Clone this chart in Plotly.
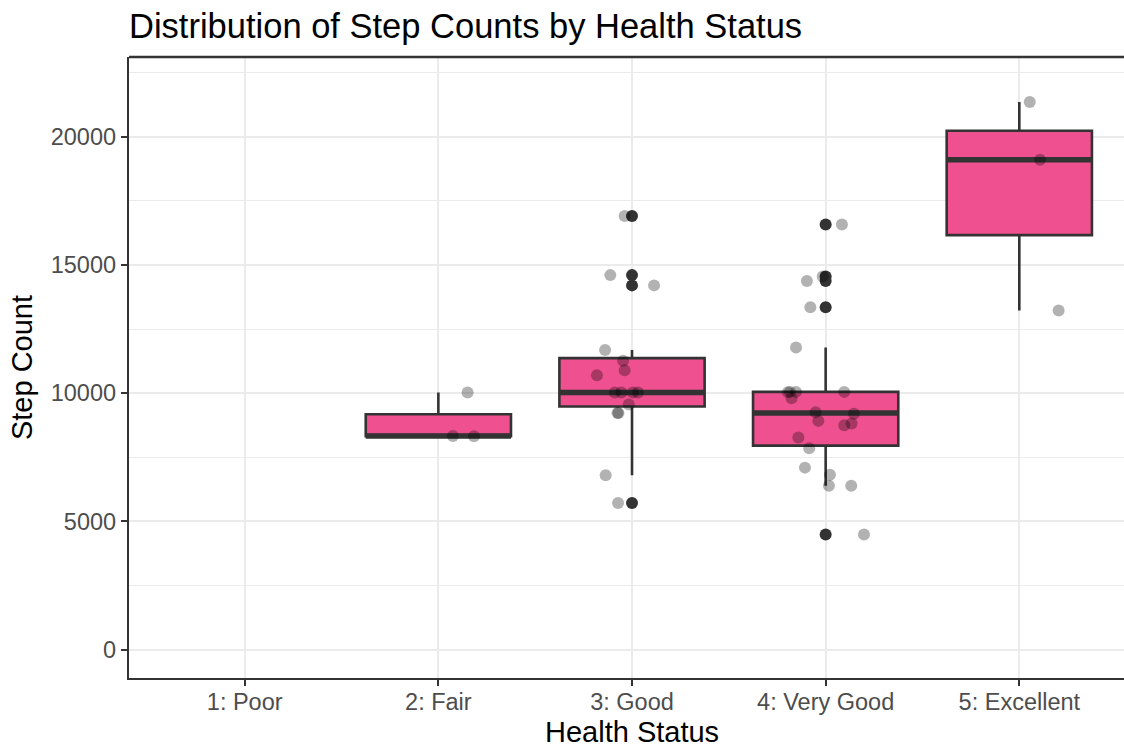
import numpy as np
import plotly.graph_objects as go

# ---------------- data ----------------
categories = ["1: Poor", "2: Fair", "3: Good", "4: Very Good", "5: Excellent"]

poor_steps = []
fair_steps = [8320, 8330, 10030]
good_steps = [16900, 14600, 14200, 11680, 11260, 10890, 10700,
              10030, 10030, 10030, 10030, 9560, 9230, 9230, 6800, 5716]
very_good_steps = [16575, 14544, 14375, 13346, 11780, 10050, 10050, 9800,
                   10050, 10040, 9260, 8920, 9200, 8815, 8750, 8270,
                   7850, 7098, 6824, 6394, 6394, 4492]
excellent_steps = [21350, 19100, 13220]

# horizontal jitter of each point (category units)
poor_jitter = []
fair_jitter = [0.184, 0.075, 0.151]
good_jitter = [-0.038, -0.112, 0.114, -0.139, -0.046, -0.038, -0.181,
               -0.089, -0.055, 0.005, 0.031, -0.017, -0.075, -0.070, -0.136, -0.072]
very_good_jitter = [0.084, -0.015, -0.097, -0.079, -0.153, -0.184, -0.153, -0.176,
                    0.096, -0.195, -0.052, -0.038, 0.146, 0.134, 0.096, -0.141,
                    -0.085, -0.107, 0.022, 0.017, 0.132, 0.198]
excellent_jitter = [0.054, 0.107, 0.203]

y_tick_values = [0, 5000, 10000, 15000, 20000]
y_minor_values = [2500, 7500, 12500, 17500, 22500]

series = [poor_steps, fair_steps, good_steps, very_good_steps, excellent_steps]
jitters = [poor_jitter, fair_jitter, good_jitter, very_good_jitter, excellent_jitter]

# ---------------- styles ----------------
FILL = "#EF508F"
DARK = "#333333"
BOX_W = 0.75
FONT = "Liberation Sans, Arial, Helvetica, sans-serif"

fig = go.Figure()
medians_x, medians_y = [], []
out_x, out_y = [], []
jit_x, jit_y = [], []

for i, (vals, jit) in enumerate(zip(series, jitters)):
    pos = i + 1
    if len(vals) == 0:
        continue
    arr = np.array(vals, dtype=float)
    q1, med, q3 = np.percentile(arr, [25, 50, 75])
    iqr = q3 - q1
    lo_lim, hi_lim = q1 - 1.5 * iqr, q3 + 1.5 * iqr
    inside = arr[(arr >= lo_lim) & (arr <= hi_lim)]
    lf, uf = inside.min(), inside.max()
    fig.add_trace(go.Box(
        x=[pos], q1=[q1], median=[med], q3=[q3], lowerfence=[lf], upperfence=[uf],
        width=BOX_W, fillcolor=FILL, line=dict(color=DARK, width=2.6),
        whiskerwidth=0, boxpoints=False, showlegend=False, hoverinfo="skip"))
    medians_x += [pos - BOX_W / 2, pos + BOX_W / 2, None]
    medians_y += [med, med, None]
    for v in arr[(arr < lo_lim) | (arr > hi_lim)]:
        out_x.append(pos)
        out_y.append(v)
    for v, j in zip(vals, jit):
        jit_x.append(pos + j)
        jit_y.append(v)

fig.add_trace(go.Scatter(x=medians_x, y=medians_y, mode="lines",
                         line=dict(color=DARK, width=5.5), showlegend=False,
                         hoverinfo="skip"))
fig.add_trace(go.Scatter(x=out_x, y=out_y, mode="markers",
                         marker=dict(color=DARK, size=12, line=dict(width=0)),
                         showlegend=False))
fig.add_trace(go.Scatter(x=jit_x, y=jit_y, mode="markers",
                         marker=dict(color="rgba(0,0,0,0.3)", size=12, line=dict(width=0)),
                         showlegend=False))

fig.update_layout(
    width=1124, height=747,
    margin=dict(l=129, r=0, t=57, b=69),
    paper_bgcolor="white", plot_bgcolor="white",
    boxmode="overlay",
    font=dict(family=FONT, color="black"),
    title=dict(text="Distribution of Step Counts by Health Status",
               font=dict(family=FONT, size=34.5, color="black"),
               x=129 / 1124, xref="container", xanchor="left",
               y=1 - 26 / 747, yref="container", yanchor="middle"),
    showlegend=False,
)

fig.update_xaxes(
    range=[0.4025, 5.5406],
    tickmode="array", tickvals=list(range(1, len(categories) + 1)), ticktext=categories,
    showgrid=True, gridcolor="#EBEBEB", gridwidth=2.4,
    zeroline=False,
    showline=True, linecolor=DARK, linewidth=2.4,
    ticks="outside", ticklen=6, tickwidth=2.4, tickcolor=DARK,
    ticklabelstandoff=-4,
    tickfont=dict(family=FONT, size=23.5, color="#4D4D4D"),
)
fig.update_yaxes(
    range=[-1100, 23100],
    tickmode="array", tickvals=y_tick_values, ticktext=[str(v) for v in y_tick_values],
    showgrid=True, gridcolor="#EBEBEB", gridwidth=2.4,
    minor=dict(tickmode="array", tickvals=y_minor_values, showgrid=True,
               gridcolor="#EBEBEB", gridwidth=1.2, ticks=""),
    zeroline=False,
    showline=True, linecolor=DARK, linewidth=2.4,
    ticks="outside", ticklen=6, tickwidth=2.4, tickcolor=DARK,
    tickfont=dict(family=FONT, size=23.5, color="#4D4D4D"),
    title=dict(text="Step Count", font=dict(family=FONT, size=29, color="black"),
               standoff=10),
)

# top panel border (right border lies outside the cropped picture)
fig.add_shape(type="line", xref="paper", yref="paper", x0=0, x1=1, y0=1, y1=1,
              line=dict(color=DARK, width=2.4), layer="above")

# x-axis title centred on the middle category, like the reference
fig.add_annotation(text="Health Status", xref="x", x=3, yref="paper", y=0,
                   yanchor="top", yshift=-36, showarrow=False,
                   font=dict(family=FONT, size=29, color="black"))

fig.write_html("out.html", config={"displayModeBar": False},
               post_script="document.body.style.margin='0px';")
